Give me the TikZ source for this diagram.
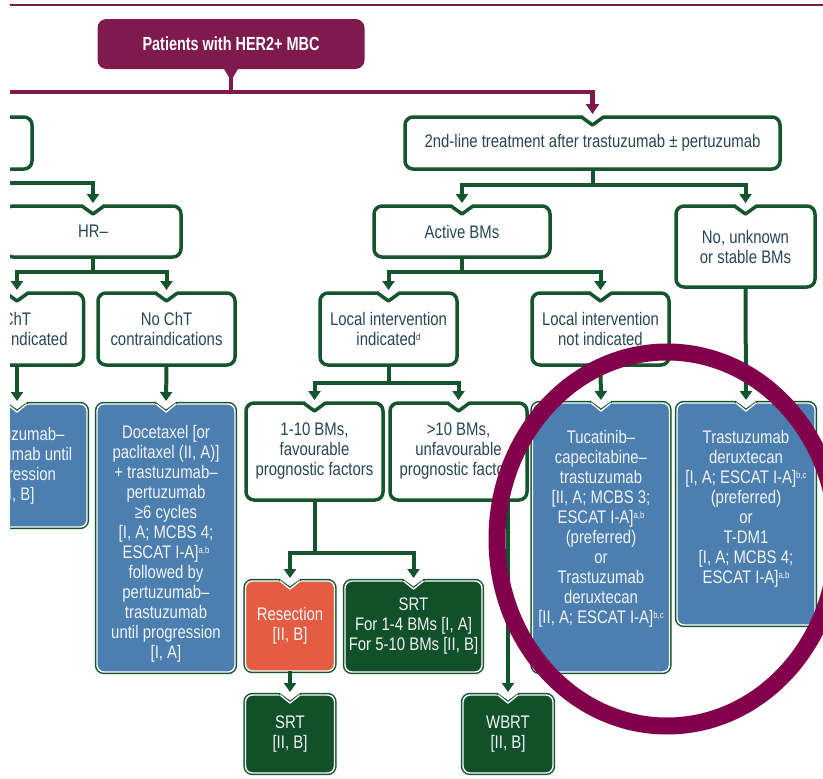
\documentclass[tikz,border=0pt]{standalone}
\usepackage{fontspec}
\setmainfont{Liberation Sans}[FakeStretch=0.82]
\newfontfamily\titlefont{Liberation Sans}[FakeStretch=0.76]
\usetikzlibrary{arrows.meta}
\definecolor{gr}{RGB}{20,85,45}
\definecolor{purp}{RGB}{126,26,78}
\definecolor{ringc}{RGB}{130,0,75}
\definecolor{bl}{RGB}{76,127,175}
\definecolor{dg}{RGB}{17,80,41}
\definecolor{orng}{RGB}{228,93,66}
\definecolor{wtxt}{RGB}{40,70,86}
\definecolor{ftxt}{RGB}{240,243,246}
\newcommand\sups[1]{\raisebox{5.5pt}{\fontsize{9.5}{10}\selectfont #1}}
\newcommand\notchw[1]{%
  \fill[white] ([xshift=-10pt,yshift=2.5pt]#1.north) rectangle ([xshift=10pt,yshift=-2pt]#1.north);
  \draw[draw=gr, line width=3.5pt, line join=round] ([xshift=-11pt]#1.north) -- ([yshift=-8pt]#1.north) -- ([xshift=11pt]#1.north);}
\newcommand\notchf[1]{%
  \fill[white] ([xshift=-10pt,yshift=3pt]#1.north) -- ([xshift=10pt,yshift=3pt]#1.north) -- ([xshift=10pt]#1.north) -- ([yshift=-8pt]#1.north) -- ([xshift=-10pt]#1.north) -- cycle;
  \draw[draw=gr, line width=1.6pt, line join=round] ([xshift=-11pt,yshift=1.5pt]#1.north) -- ([yshift=-6.5pt]#1.north) -- ([xshift=11pt,yshift=1.5pt]#1.north);
  \draw[draw=white, line width=1.4pt, line join=round] ([xshift=-10pt]#1.north) -- ([yshift=-8pt]#1.north) -- ([xshift=10pt]#1.north);}
\tikzset{
  base/.style={rectangle, inner sep=0pt, outer sep=0pt, align=center, font=\fontsize{18.2}{20}\selectfont},
  wbox/.style={base, rounded corners=8pt, draw=gr, line width=3.5pt, fill=white, text=wtxt},
  fbox/.style={base, rounded corners=7pt, draw=white, line width=1.4pt, preaction={draw=gr, line width=4.4pt}, text=ftxt},
  bluebox/.style={fbox, fill=bl},
  greenbox/.style={fbox, fill=dg},
  orangebox/.style={fbox, fill=orng},
  ftext/.style={base, text=ftxt},
  garrow/.style={draw=gr, line width=4pt, -{Triangle[width=12pt,length=9pt]}, shorten >=3pt},
  gline/.style={draw=gr, line width=4pt},
  parrow/.style={draw=purp, line width=4.5pt, -{Triangle[width=13pt,length=10pt]}, shorten >=3pt},
  pline/.style={draw=purp, line width=4.5pt},
}
\begin{document}
\begin{tikzpicture}[x=1pt, y=-1pt]
\useasboundingbox (0,0) rectangle (823,779);
\begin{scope}
\clip (10,0) rectangle (823,779);
% top rule
\draw[purp, line width=2.7pt] (10,5) -- (823,5);
% title
\node[rectangle, rounded corners=9pt, fill=purp, minimum width=267pt, minimum height=50pt, inner sep=0pt, outer sep=0pt, text=white, font=\titlefont\bfseries\fontsize{19}{22}\selectfont] (patients) at (231,44) {Patients with HER2+ MBC};
\fill[purp] ([xshift=-7pt]patients.south) -- ([xshift=7pt]patients.south) -- ([xshift=2.2pt,yshift=-8pt]patients.south) -- ([xshift=-2.2pt,yshift=-8pt]patients.south) -- cycle;

% row 1
\node[wbox, minimum width=182pt, minimum height=52pt] (firstline) at (-59,143) {};
\node[wbox, minimum width=375pt, minimum height=52pt] (second) at (592.5,143) {2nd-line treatment after trastuzumab ± pertuzumab};
\notchw{second}

% row 2
\node[wbox, minimum width=176pt, minimum height=51pt] (hrneg) at (93,231.5) {HR–};
\node[wbox, minimum width=176pt, minimum height=51pt] (active) at (462,231.5) {Active BMs};
\node[wbox, minimum width=139pt, minimum height=81pt] (nounk) at (745.5,246.5) {No, unknown\\or stable BMs};
\notchw{hrneg}\notchw{active}\notchw{nounk}

% row 3
\node[wbox, minimum width=133pt, minimum height=72pt] (chtc) at (17,329) {ChT\\contraindicated};
\node[wbox, minimum width=137pt, minimum height=72pt] (nocht) at (166.5,329) {No ChT\\contraindications};
\node[wbox, minimum width=137pt, minimum height=72pt] (locyes) at (388.5,329) {Local intervention\\indicated\sups{d}};
\node[wbox, minimum width=137pt, minimum height=72pt] (locno) at (600.5,329) {Local intervention\\not indicated};
\notchw{chtc}\notchw{nocht}\notchw{locyes}\notchw{locno}

% row 4
\node[bluebox, minimum width=140pt, minimum height=123pt] (bluel) at (17,465.5) {Trastuzumab–\\pertuzumab until\\progression\\{}[II, B]};
\node[bluebox, minimum width=138pt, minimum height=268pt] (docet) at (166,538) {};
\node[ftext] (docettext) at (166,544) {Docetaxel [or\\paclitaxel (II, A)]\\+ trastuzumab–\\pertuzumab\\≥6 cycles\\{}[I, A; MCBS 4;\\ESCAT I-A]\sups{a,b}\\followed by\\pertuzumab–\\trastuzumab\\until progression\\{}[I, A]};
\node[wbox, minimum width=137pt, minimum height=97pt] (few) at (314.5,451.5) {1-10 BMs,\\favourable\\prognostic factors};
\node[wbox, minimum width=137pt, minimum height=97pt] (many) at (458.5,451.5) {>10 BMs,\\unfavourable\\prognostic factors};
\node[bluebox, minimum width=137pt, minimum height=269pt] (tucat) at (601,537.5) {};
\node[ftext] (tucattext) at (601,529) {Tucatinib–\\capecitabine–\\trastuzumab\\{}[II, A; MCBS 3;\\ESCAT I-A]\sups{a,b}\\(preferred)\\or\\Trastuzumab\\deruxtecan\\{}[II, A; ESCAT I-A]\sups{b,c}};
\node[bluebox, minimum width=138pt, minimum height=222pt] (tdxd) at (746,514) {};
\node[ftext] (tdxdtext) at (746,509) {Trastuzumab\\deruxtecan\\{}[I, A; ESCAT I-A]\sups{b,c}\\(preferred)\\or\\T-DM1\\{}[I, A; MCBS 4;\\ESCAT I-A]\sups{a,b}};
\notchf{bluel}\notchf{docet}\notchw{few}\notchw{many}\notchf{tucat}\notchf{tdxd}

% row 5
\node[orangebox, minimum width=89pt, minimum height=90pt] (resect) at (290,626) {Resection\\{}[II, B]};
\node[greenbox, minimum width=137pt, minimum height=91pt] (srtbig) at (413.5,626.5) {SRT\\For 1-4 BMs [I, A]\\For 5-10 BMs [II, B]};
\notchf{resect}\notchf{srtbig}

% row 6
\node[greenbox, minimum width=89pt, minimum height=78pt] (srtsmall) at (290,734) {SRT\\{}[II, B]};
\node[greenbox, minimum width=90pt, minimum height=78pt] (wbrt) at (508,734) {WBRT\\{}[II, B]};
\notchf{srtsmall}\notchf{wbrt}

% purple connectors
\draw[pline] (patients.south) -- ++(0,23) coordinate (psplit);
\coordinate (pleft) at (0,92);
\draw[pline] (psplit) -- (pleft);
\draw[parrow] (psplit) -| (second.north);

% green connectors
\coordinate (hrsrc) at (0,183);
\draw[garrow] (hrsrc) -| (hrneg.north);
\draw[garrow] (second.south) -- ++(0,16) -| (active.north);
\draw[garrow] (second.south) -- ++(0,16) -| (nounk.north);
\draw[garrow] (hrneg.south) -- ++(0,15) -| (chtc.north);
\draw[garrow] (hrneg.south) -- ++(0,15) -| (nocht.north);
\draw[garrow] (active.south) -- ++(0,15) -| (locyes.north);
\draw[garrow] (active.south) -- ++(0,15) -| (locno.north);
\draw[garrow] (chtc.south) -- (bluel.north);
\draw[garrow] (nocht.south) -- (docet.north);
\draw[garrow] (locyes.south) -- ++(0,18) -| (few.north);
\draw[garrow] (locyes.south) -- ++(0,18) -| (many.north);
\draw[garrow] (locno.south) -- (tucat.north);
\draw[garrow] (nounk.south) -- (tdxd.north);
\draw[garrow] (few.south) -- ++(0,53) -| (resect.north);
\draw[garrow] (few.south) -- ++(0,53) -| (srtbig.north);
\draw[garrow] (resect.south) -- (srtsmall.north);
\draw[garrow] (wbrt.north |- many.south) -- (wbrt.north);

% highlight ring
\draw[ringc, line width=17pt] (667,539) ellipse [x radius=170pt, y radius=187pt];
\end{scope}
\end{tikzpicture}
\end{document}
